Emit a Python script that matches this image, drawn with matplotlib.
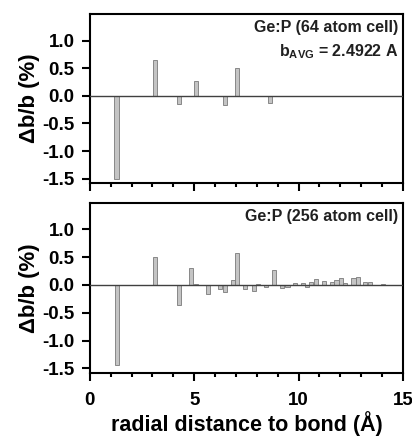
import matplotlib
matplotlib.use("Agg")
import matplotlib.pyplot as plt
from matplotlib.ticker import MultipleLocator

plt.rcParams['font.family'] = ['Liberation Sans', 'DejaVu Sans']
plt.rcParams['font.weight'] = 'bold'
plt.rcParams['mathtext.fontset'] = 'custom'
plt.rcParams['mathtext.bf'] = 'Liberation Sans:bold'
plt.rcParams['mathtext.rm'] = 'Liberation Sans:bold'

# Data: 64 atom cell
r64 = [1.28, 3.11, 4.27, 5.07, 6.47, 7.07, 8.64]
d64 = [-1.50, 0.65, -0.15, 0.26, -0.17, 0.51, -0.13]

# Data: 256 atom cell
r256 = [1.31, 3.11, 4.27, 4.86, 5.07, 5.66, 6.22, 6.46, 6.86, 7.05, 7.45, 7.85,
        8.05, 8.45, 8.82, 9.22, 9.47, 9.81, 10.2, 10.42, 10.6, 10.85, 11.22,
        11.62, 11.82, 12.04, 12.24, 12.63, 12.84, 13.2, 13.42, 14.03]
d256 = [-1.44, 0.50, -0.36, 0.31, 0.02, -0.17, -0.08, -0.13, 0.09, 0.57, -0.08, -0.11,
        0.01, -0.04, 0.27, -0.05, -0.03, 0.03, 0.03, -0.03, 0.06, 0.11, 0.08,
        0.05, 0.09, 0.12, 0.04, 0.13, 0.15, 0.06, 0.06, 0.02]

labels = ["Ge:P (64 atom cell)", "Ge:P (256 atom cell)"]
yticks = [-1.5, -1.0, -0.5, 0.0, 0.5, 1.0]
xticks = [0, 5, 10, 15]

fig = plt.figure(figsize=(4.12, 4.37), dpi=100)
ax1 = fig.add_axes([0.218, 0.581, 0.760, 0.387])
ax2 = fig.add_axes([0.218, 0.147, 0.760, 0.389])

for ax, r, d, lab in [(ax1, r64, d64, labels[0]), (ax2, r256, d256, labels[1])]:
    ax.bar(r, d, width=0.2, color='#c4c4c4', edgecolor='#7a7a7a', linewidth=0.6, zorder=2)
    ax.axhline(0, color='#404040', linewidth=1.0, zorder=3)
    ax.set_xlim(0, 15)
    ax.set_ylim(-1.58, 1.48)
    ax.set_yticks(yticks)
    ax.set_yticklabels([f"{v:.1f}" for v in yticks])
    ax.set_xticks(xticks)
    ax.xaxis.set_minor_locator(MultipleLocator(1))
    ax.tick_params(axis='y', which='major', direction='out', length=6, width=1.5,
                   labelsize=13.5, pad=5)
    ax.tick_params(axis='x', which='major', direction='out', length=6, width=1.5,
                   labelsize=13.5, pad=8)
    ax.tick_params(axis='x', which='minor', direction='out', length=3, width=1.5)
    for s in ax.spines.values():
        s.set_linewidth(1.5)
    ax.set_ylabel("Δb/b (%)", fontsize=16, fontweight='bold', labelpad=2)
    ax.text(0.985, 0.965, lab, transform=ax.transAxes, ha='right', va='top',
            fontsize=11.5, fontweight='bold', color='#202020')

ax1.tick_params(axis='x', labelbottom=False)
ax1.text(0.985, 0.835, r"b$_{\mathbf{AVG}}$ = 2.4922 A", transform=ax1.transAxes,
         ha='right', va='top', fontsize=11.5, fontweight='bold', color='#202020')
ax2.set_xlabel("radial distance to bond (Å)", fontsize=15.5, fontweight='bold', labelpad=1)

fig.savefig("out.png", dpi=100)
